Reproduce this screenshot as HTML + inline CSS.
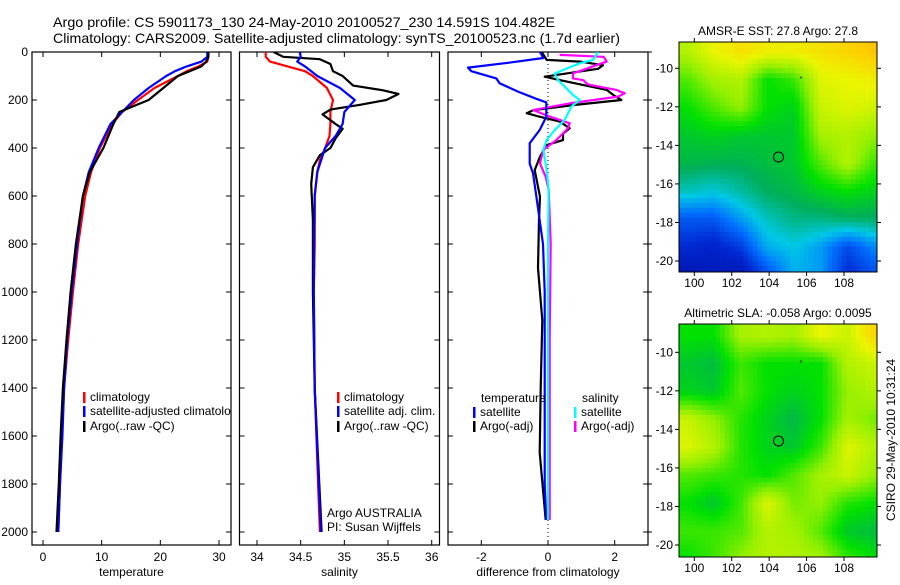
<!DOCTYPE html>
<html><head><meta charset="utf-8"><style>
html,body{margin:0;padding:0;background:#fff;}
svg text{font-family:"Liberation Sans",Arial,sans-serif;fill:#000;}
</style></head><body>
<svg id="fig" width="900" height="580" viewBox="0 0 900 580" xmlns="http://www.w3.org/2000/svg">
<rect width="900" height="580" fill="#fff"/>
<text x="53" y="27" font-size="14" textLength="502" lengthAdjust="spacingAndGlyphs">Argo profile: CS 5901173_130 24-May-2010 20100527_230 14.591S 104.482E</text>
<text x="53" y="43" font-size="14" textLength="567" lengthAdjust="spacingAndGlyphs">Climatology: CARS2009. Satellite-adjusted climatology: synTS_20100523.nc (1.7d earlier)</text>
<g id="g"></g>
</svg>
<script>
// ---- data ----
const tDepth = [0,20,40,60,80,100,150,200,250,300,400,500,600,800,1000,1200,1400,1600,1800,2000];
const tClim = [28.2,28.2,28,26.5,24.5,23,19,16.2,13.5,11.8,9.7,8.2,7.2,6.0,5.1,4.3,3.6,3.2,2.9,2.6];
const tSat  = [28.0,28.0,27,24.5,22.5,21,18,15.5,13.5,11.5,9.5,7.8,6.8,5.8,4.9,4.1,3.6,3.3,2.9,2.6];
const tArgo = [28.2,28.2,27.8,27,25,23,20.5,18,13,12,10.3,8.0,6.8,5.6,4.7,4.0,3.4,3.0,2.7,2.3];

const sClimDepth = [0,20,40,60,80,100,150,200,250,300,350,400,450,500,600,800,1000,1400,1800,2000];
const sClim = [34.1,34.1,34.15,34.35,34.55,34.64,34.8,34.87,34.84,34.84,34.83,34.78,34.72,34.69,34.66,34.66,34.65,34.66,34.7,34.72];
const sSatDepth = [0,20,40,60,100,150,200,250,300,350,400,500,600,1000,1400,2000];
const sSat = [34.49,34.5,34.46,34.55,34.69,34.95,35.12,35.0,34.98,34.9,34.78,34.69,34.66,34.65,34.66,34.73];
const sArgoDepth = [0,20,30,50,80,100,140,160,175,200,220,240,260,300,320,360,400,430,480,550,700,1000,1400,2000];
const sArgo = [34.19,34.3,34.72,34.84,34.87,34.98,35.1,35.45,35.62,35.48,35.18,34.84,34.75,34.9,34.98,34.9,34.84,34.72,34.64,34.62,34.64,34.64,34.66,34.74];

const dTSatDepth = [0,25,45,65,80,110,130,165,195,210,270,325,380,465,505,600,800,1000,1200,1500,1800,1950];
const dTSat = [-0.24,-0.14,-1.2,-2.4,-2.3,-1.55,-1.45,-0.9,-0.35,-0.05,-0.05,-0.25,-0.55,-0.55,-0.45,-0.35,-0.15,-0.1,-0.1,-0.1,-0.1,-0.05];
const dTArgoDepth = [0,33,40,55,70,103,117,158,179,200,221,242,255,270,290,318,340,367,388,436,492,603,700,900,1117,1400,1670,1950];
const dTArgo = [-0.19,-0.04,0.96,1.65,1.5,-0.1,0.35,1.76,1.96,2.2,0.78,-0.44,-0.64,-0.24,0.35,0.65,0.45,0.45,-0.04,-0.24,-0.4,-0.24,-0.27,-0.3,-0.17,-0.22,-0.25,-0.07];
const dSSatDepth = [0,33,47,75,90,117,151,179,200,228,283,325,367,408,492,575,800,1200,1600,1950];
const dSSat = [1.5,1.35,0.95,0.45,0.2,0.3,0.55,0.75,0.95,0.7,0.5,0.2,-0.04,-0.14,-0.04,0.02,0.0,0.0,0.0,0.0];
const dSArgoDepth = [12,20,40,89,110,117,135,158,172,186,214,242,269,297,318,339,367,408,464,520,575,800,1200,1600,1950];
const dSArgo = [0.35,1.67,1.76,0.75,0.75,1.05,1.2,2.05,2.3,2.1,0.65,-0.44,0.05,0.65,0.6,0.45,0.25,-0.14,-0.24,-0.07,0.02,0.08,0.05,0.05,0.05];

const depthTicks = [0,200,400,600,800,1000,1200,1400,1600,1800,2000];
const tempTicks = [0,10,20,30];
const salTicks = [34,34.5,35,35.5,36];
const diffTicks = [-2,0,2];
const lonTicks = [100,102,104,106,108];
const latTicks = [-10,-12,-14,-16,-18,-20];

// SST map coarse grid (normalized colour 0..1), rows lat -9 .. -20.5, cols lon 99.5..109.5
const sstGrid = [
 [0.72,0.8,0.85,0.82,0.82,0.85,0.88,0.92],
 [0.62,0.7,0.72,0.55,0.6,0.78,0.8,0.82],
 [0.55,0.62,0.68,0.55,0.52,0.75,0.78,0.76],
 [0.5,0.52,0.5,0.5,0.5,0.7,0.72,0.68],
 [0.47,0.46,0.46,0.48,0.5,0.62,0.72,0.6],
 [0.38,0.36,0.4,0.45,0.47,0.52,0.55,0.52],
 [0.22,0.22,0.3,0.38,0.42,0.42,0.44,0.44],
 [0.15,0.13,0.18,0.32,0.35,0.3,0.2,0.28],
 [0.08,0.1,0.08,0.2,0.32,0.3,0.15,0.2]];
const slaGrid = [
 [0.55,0.55,0.7,0.72,0.7,0.8,0.75,0.88],
 [0.5,0.48,0.6,0.55,0.55,0.55,0.72,0.75],
 [0.52,0.5,0.62,0.55,0.52,0.55,0.68,0.72],
 [0.75,0.68,0.58,0.52,0.47,0.55,0.7,0.65],
 [0.78,0.72,0.58,0.52,0.5,0.6,0.78,0.72],
 [0.62,0.6,0.58,0.55,0.62,0.7,0.75,0.68],
 [0.55,0.5,0.6,0.78,0.65,0.68,0.58,0.55],
 [0.6,0.6,0.62,0.72,0.7,0.62,0.5,0.48],
 [0.55,0.6,0.68,0.72,0.72,0.7,0.6,0.55]];
const floatLon = 104.5, floatLat = -14.6;
const markLon = 105.7, markLat = -10.5;

// ---- drawing ----
const NS='http://www.w3.org/2000/svg';
const g=document.getElementById('g');
function el(tag,attrs,parent){const e=document.createElementNS(NS,tag);for(const k in attrs)e.setAttribute(k,attrs[k]);(parent||g).appendChild(e);return e;}
function txt(x,y,s,size,anchor,parent){const t=el('text',{x:x,y:y,'font-size':size,'text-anchor':anchor||'start'},parent);t.textContent=s;return t;}

const yTop=52, yPerM=0.24;
const yD=d=>yTop+d*yPerM;
const panelTop=52, panelBot=545;
function lin(v0,p0,v1,p1){return v=>p0+(v-v0)*(p1-p0)/(v1-v0);}
const xT=lin(0,43,30,219), xS=lin(34,257,36,431.7), xDf=lin(-2,481.3,2,614.7);
const panels=[{l:32,r:231,x:xT,ticks:tempTicks,lab:'temperature',name:'temperature'},
 {l:239.5,r:439.5,x:xS,ticks:salTicks,lab:'salinity',name:'salinity'},
 {l:448,r:648,x:xDf,ticks:diffTicks,lab:'difference from climatology',name:'difference'}];

function line(xs,ds,xf,color,name,clipId){
  const pts=xs.map((v,i)=>xf(v).toFixed(1)+','+yD(ds[i]).toFixed(1)).join(' ');
  const p=el('polyline',{points:pts,fill:'none',stroke:color,'stroke-width':2.2,'stroke-linejoin':'round','clip-path':'url(#'+clipId+')'});
  
  
}
const defs=el('defs',{});
panels.forEach((P,i)=>{
  const cp=el('clipPath',{id:'cp'+i},defs); el('rect',{x:P.l,y:panelTop,width:P.r-P.l,height:panelBot-panelTop},cp);
});
panels.forEach((P,i)=>{
  const bg=el('rect',{x:P.l,y:panelTop,width:P.r-P.l,height:panelBot-panelTop,fill:'#fff',stroke:'#000','stroke-width':1.2});
  
  
  depthTicks.forEach(d=>{
    el('line',{x1:P.l,x2:P.l+5,y1:yD(d),y2:yD(d),stroke:'#000'});
    el('line',{x1:P.r,x2:P.r-5,y1:yD(d),y2:yD(d),stroke:'#000'});
    if(i===0){const t=txt(P.l-4,yD(d)+4,String(d),12,'end');
      
      }
  });
  P.ticks.forEach(v=>{
    const x=P.x(v);
    el('line',{x1:x,x2:x,y1:panelBot,y2:panelBot-5,stroke:'#000'});
    el('line',{x1:x,x2:x,y1:panelTop,y2:panelTop+5,stroke:'#000'});
    const t=txt(x,561,String(v),12,'middle');
    
    
  });
  const al=txt((P.l+P.r)/2,576,P.lab,12,'middle');
  
  
});
// right depth ticks outside of diff panel
depthTicks.forEach(d=>el('line',{x1:648,x2:652,y1:yD(d),y2:yD(d),stroke:'#000'}));
// zero dotted line
el('line',{x1:xDf(0),x2:xDf(0),y1:panelTop,y2:panelBot,stroke:'#000','stroke-dasharray':'1,3'});

line(tClim,tDepth,xT,'#f00','temp-climatology-line','cp0');
line(tSat,tDepth,xT,'#00f','temp-satellite-line','cp0');
line(tArgo,tDepth,xT,'#000','temp-argo-line','cp0');
line(sClim,sClimDepth,xS,'#f00','sal-climatology-line','cp1');
line(sArgo,sArgoDepth,xS,'#000','sal-argo-line','cp1');
line(sSat,sSatDepth,xS,'#00f','sal-satellite-line','cp1');
line(dTArgo,dTArgoDepth,xDf,'#000','diff-temp-argo-line','cp2');
line(dSArgo,dSArgoDepth,xDf,'#f0f','diff-sal-argo-line','cp2');
line(dTSat,dTSatDepth,xDf,'#00f','diff-temp-sat-line','cp2');
line(dSSat,dSSatDepth,xDf,'#0ff','diff-sal-sat-line','cp2');

function legend(x,y,color,label){
  el('rect',{x:x,y:y-9,width:2.5,height:11,fill:color});
  const t=txt(x+7,y,label,12);
  
  
}
legend(83,401,'#f00','climatology');
legend(83,415,'#00f','satellite-adjusted climatolo');
legend(83,430,'#000','Argo(..raw -QC)');
legend(337,401,'#f00','climatology');
legend(337,415,'#00f','satellite adj. clim.');
legend(337,430,'#000','Argo(..raw -QC)');
let t1=txt(327,517,'Argo AUSTRALIA',12);  
let t2=txt(327,531,'PI: Susan Wijffels',12);  
let t3=txt(481,402,'temperature',12);  
let t4=txt(582,402,'salinity',12);  
legend(473,416,'#00f','satellite');
legend(473,430,'#000','Argo(-adj)');
legend(574,416,'#0ff','satellite');
legend(574,430,'#f0f','Argo(-adj)');

// ---- maps ----
const cstops=[[0,[0,0,140]],[0.15,[0,40,210]],[0.25,[0,110,255]],[0.35,[0,200,230]],[0.45,[0,175,90]],[0.55,[0,225,0]],[0.68,[150,240,0]],[0.8,[235,245,0]],[0.9,[255,205,0]],[1,[255,160,0]]];
function cmap(v){v=Math.max(0,Math.min(1,v));for(let i=1;i<cstops.length;i++){if(v<=cstops[i][0]){const a=cstops[i-1],b=cstops[i];const f=(v-a[0])/(b[0]-a[0]);const c=a[1].map((x,k)=>Math.round(x+(b[1][k]-x)*f));return 'rgb('+c.join(',')+')';}}return 'rgb(255,160,0)';}
function bilin(grid,r,c){const R=grid.length-1,C=grid[0].length-1;r=Math.max(0,Math.min(R,r));c=Math.max(0,Math.min(C,c));const r0=Math.min(R-1,Math.floor(r)),c0=Math.min(C-1,Math.floor(c));const fr=r-r0,fc=c-c0;return grid[r0][c0]*(1-fr)*(1-fc)+grid[r0][c0+1]*(1-fr)*fc+grid[r0+1][c0]*fr*(1-fc)+grid[r0+1][c0+1]*fr*fc;}
function drawMap(top,bot,lat10y,lat20y,grid,title,name){
  const L=679,R=877;
  const xL=lin(100,694.3,108,844), yL=lin(-10,lat10y,-20,lat20y);
  const mg=el('g',{});
  
  
  const step=0.25;
  for(let lat=-8.5;lat>-20.75;lat-=step){
    for(let lon=99.125;lon<109.875;lon+=step){
      const r=(-9-lat)/1.45, c=(lon-99.5)/(10/7);
      const x0=Math.max(L,xL(lon)), x1=Math.min(R,xL(lon+step)), y0=Math.max(top,yL(lat)), y1=Math.min(bot,yL(lat-step));
      if(x1<=x0||y1<=y0) continue;
      el('rect',{x:x0.toFixed(2),y:y0.toFixed(2),width:(x1-x0+0.4).toFixed(2),height:(y1-y0+0.4).toFixed(2),fill:cmap(bilin(grid,r,c))},mg);
    }
  }
  el('rect',{x:L,y:top,width:R-L,height:bot-top,fill:'none',stroke:'#000','stroke-width':1},mg);
  lonTicks.forEach(v=>{const x=xL(v);el('line',{x1:x,x2:x,y1:bot,y2:bot+4,stroke:'#000'},mg);el('line',{x1:x,x2:x,y1:top,y2:top-4,stroke:'#000'},mg);
    const t=txt(x,bot+15,String(v),12,'middle',mg);});
  latTicks.forEach(v=>{const y=yL(v);el('line',{x1:L,x2:L-4,y1:y,y2:y,stroke:'#000'},mg);el('line',{x1:R,x2:R+4,y1:y,y2:y,stroke:'#000'},mg);
    const t=txt(L-6,y+4,String(v),12,'end',mg);});
  el('circle',{cx:xL(floatLon),cy:yL(floatLat),r:5,fill:'none',stroke:'#000','stroke-width':1},mg);
  el('text',{x:xL(markLon),y:yL(markLat)+3,'font-size':7,'text-anchor':'middle'},mg).textContent='*';
  const tt=txt((L+R)/2,top-7,title,12,'middle',mg);
  
  
}
drawMap(42,272,68.3,261,sstGrid,'AMSR-E SST: 27.8 Argo: 27.8','sst-map');
drawMap(324,557,352.3,545,slaGrid,'Altimetric SLA: -0.058 Argo: 0.0095','sla-map');
const st=txt(0,0,'CSIRO 29-May-2010 10:31:24',12,'middle');
st.setAttribute('transform','translate(895,440) rotate(-90)');


</script>
</body></html>
